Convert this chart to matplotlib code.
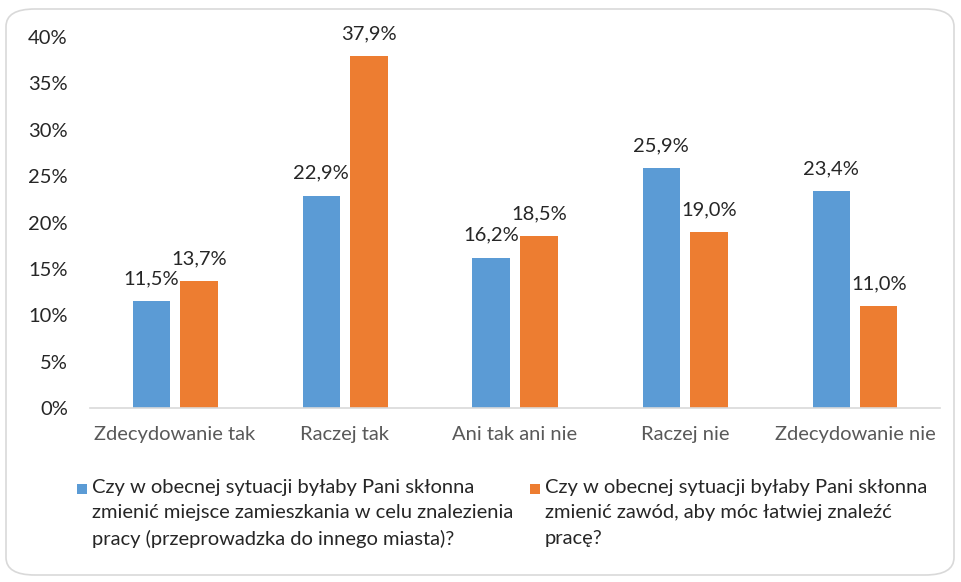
import matplotlib
matplotlib.use("Agg")
import matplotlib.pyplot as plt
from matplotlib.patches import FancyBboxPatch, Rectangle
import numpy as np

plt.rcParams['font.family'] = ['Lato', 'DejaVu Sans']

categories = ["Zdecydowanie tak", "Raczej tak", "Ani tak ani nie", "Raczej nie", "Zdecydowanie nie"]
move_city = [11.5, 22.9, 16.2, 25.9, 23.4]
change_job = [13.7, 37.9, 18.5, 19.0, 11.0]
series_labels = [
    "Czy w obecnej sytuacji byłaby Pani skłonna\nzmienić miejsce zamieszkania w celu znalezienia\npracy (przeprowadzka do innego miasta)?",
    "Czy w obecnej sytuacji byłaby Pani skłonna\nzmienić zawód, aby móc łatwiej znaleźć\npracę?",
]
yticks = [0, 5, 10, 15, 20, 25, 30, 35, 40]

blue = "#5B9BD5"
orange = "#ED7D31"
FS = 14.5

W, H = 961, 582
fig = plt.figure(figsize=(W / 100, H / 100), dpi=100)

# rounded outer frame
frame = FancyBboxPatch((6 / W, 7 / H), 948 / W, 566 / H,
                       boxstyle="round,pad=0,rounding_size=0.03",
                       transform=fig.transFigure, facecolor="white",
                       edgecolor="#D9D9D9", linewidth=1.2, zorder=-5)
fig.patches.append(frame)

ax = fig.add_axes([90 / W, (H - 408) / H, 850 / W, 371 / H])
ax.set_facecolor("none")
ax.set_zorder(2)
x = np.arange(len(categories))
bw = 0.22
off = 0.14
b1 = ax.bar(x - off, move_city, bw, color=blue, zorder=2)
b2 = ax.bar(x + off, change_job, bw, color=orange, zorder=2)

for bars, vals in ((b1, move_city), (b2, change_job)):
    for r, v in zip(bars, vals):
        ax.annotate(f"{v:.1f}%".replace(".", ","),
                    (r.get_x() + r.get_width() / 2, v),
                    xytext=(0, 10), textcoords="offset points",
                    ha="center", va="bottom", fontsize=FS, color="#262626")

ax.set_xlim(-0.5, len(categories) - 0.5)
ax.set_ylim(0, 40)
ax.set_yticks(yticks)
ax.set_yticklabels([f"{t}%" for t in yticks], fontsize=FS, color="#262626")
ax.set_xticks(x)
ax.set_xticklabels(categories, fontsize=FS, color="#595959")
ax.tick_params(axis="y", length=0, pad=16)
ax.tick_params(axis="x", length=0, pad=13)
for s in ("top", "right", "left"):
    ax.spines[s].set_visible(False)
ax.spines["bottom"].set_color("#D9D9D9")
ax.spines["bottom"].set_linewidth(1.2)

# legend
legend_items = [(77, blue, series_labels[0]), (530, orange, series_labels[1])]
for lx, col, lab in legend_items:
    fig.patches.append(Rectangle((lx / W, (H - 494) / H), 10 / W, 10 / H,
                                 transform=fig.transFigure, facecolor=col,
                                 edgecolor="none", zorder=3))
    fig.text((lx + 15) / W, (H - 479) / H, lab, fontsize=FS, color="#262626",
             ha="left", va="top", linespacing=1.6, zorder=3)

fig.savefig("out.png", dpi=100)
